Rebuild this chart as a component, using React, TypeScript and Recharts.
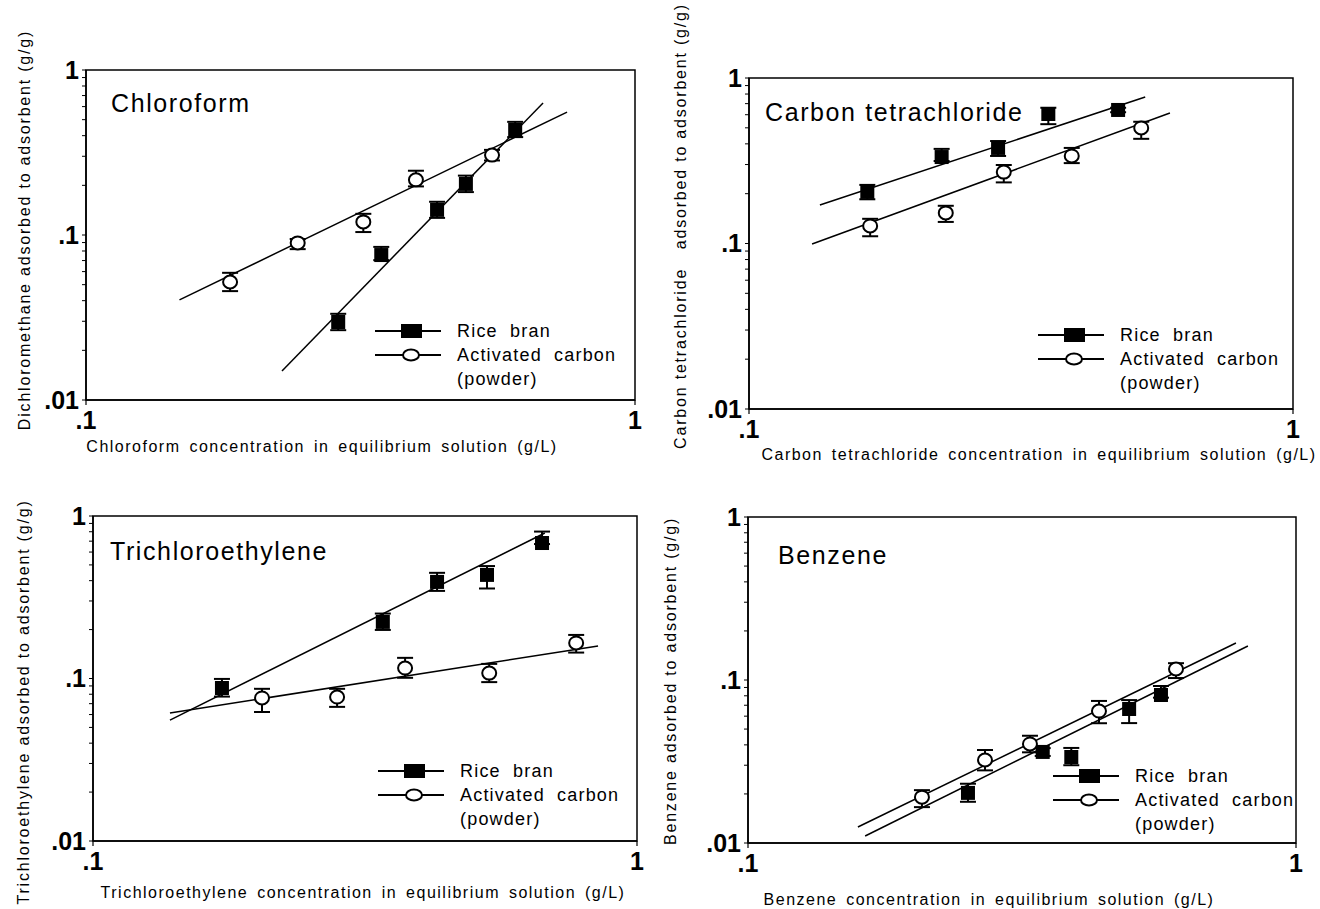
import React from 'react';
import { ScatterChart, Scatter, XAxis, YAxis, ErrorBar, ReferenceArea, Legend } from 'recharts';

const FONT = '"Liberation Sans", Arial, Helvetica, sans-serif';

// ---- ticks ----
const xTickValues = [0.1, 1];
const yTickValues = [0.01, 0.02, 0.03, 0.04, 0.05, 0.06, 0.07, 0.08, 0.09, 0.1, 0.2, 0.3, 0.4, 0.5, 0.6, 0.7, 0.8, 0.9, 1];
const decadeValues = [0.01, 0.1, 1];
const decadeLabels = ['.01', '.1', '1'];

// ---- legend texts ----
const seriesNames = ['Rice bran', 'Activated carbon'];
const carbonNote = '(powder)';

// ---- Chloroform ----
const chloroRiceX = [0.288, 0.345, 0.436, 0.492, 0.605];
const chloroRiceY = [0.0297, 0.0756, 0.142, 0.204, 0.433];
const chloroRiceErr = [[0.0032, 0.0036], [0.0052, 0.0091], [0.015, 0.017], [0.022, 0.025], [0.041, 0.052]];
const chloroCarbonX = [0.183, 0.243, 0.32, 0.399, 0.549];
const chloroCarbonY = [0.0519, 0.0895, 0.12, 0.216, 0.305];
const chloroCarbonErr = [[0.0062, 0.0071], [0.0074, 0.0051], [0.0158, 0.0144], [0.019, 0.0292], [0.022, 0.023]];
const chloroRiceFitX = [0.2275, 0.68];
const chloroRiceFitY = [0.015, 0.631];
const chloroCarbonFitX = [0.148, 0.752];
const chloroCarbonFitY = [0.0404, 0.556];

// ---- Carbon tetrachloride ----
const ctetRiceX = [0.165, 0.226, 0.287, 0.355, 0.477];
const ctetRiceY = [0.205, 0.333, 0.378, 0.606, 0.641];
const ctetRiceErr = [[0.02, 0.021], [0.018, 0.04], [0.04, 0.038], [0.08, 0.055], [0.02, 0.02]];
const ctetCarbonX = [0.167, 0.23, 0.294, 0.392, 0.526];
const ctetCarbonY = [0.1276, 0.153, 0.27, 0.338, 0.499];
const ctetCarbonErr = [[0.017, 0.0134], [0.018, 0.016], [0.036, 0.028], [0.032, 0.04], [0.07, 0.045]];
const ctetRiceFitX = [0.135, 0.535];
const ctetRiceFitY = [0.171, 0.768];
const ctetCarbonFitX = [0.1306, 0.594];
const ctetCarbonFitY = [0.0993, 0.615];

// ---- Trichloroethylene ----
const tceRiceX = [0.1726, 0.341, 0.429, 0.53, 0.669];
const tceRiceY = [0.0874, 0.223, 0.393, 0.434, 0.682];
const tceRiceErr = [[0.01, 0.012], [0.024, 0.028], [0.047, 0.054], [0.076, 0.058], [0.01, 0.12]];
const tceCarbonX = [0.2045, 0.281, 0.3747, 0.535, 0.773];
const tceCarbonY = [0.0759, 0.0769, 0.116, 0.108, 0.1654];
const tceCarbonErr = [[0.0137, 0.0105], [0.01, 0.0095], [0.015, 0.018], [0.013, 0.015], [0.021, 0.02]];
const tceRiceFitX = [0.1385, 0.677];
const tceRiceFitY = [0.0555, 0.786];
const tceCarbonFitX = [0.1385, 0.848];
const tceCarbonFitY = [0.0613, 0.1585];

// ---- Benzene ----
const benzRiceX = [0.252, 0.345, 0.389, 0.496, 0.567];
const benzRiceY = [0.0203, 0.0362, 0.0337, 0.0664, 0.0809];
const benzRiceErr = [[0.0024, 0.0028], [0.002, 0.002], [0.0037, 0.0046], [0.012, 0.0089], [0.003, 0.011]];
const benzCarbonX = [0.2077, 0.2707, 0.327, 0.437, 0.604];
const benzCarbonY = [0.0191, 0.0323, 0.0405, 0.0645, 0.1168];
const benzCarbonErr = [[0.0025, 0.002], [0.0044, 0.0049], [0.0045, 0.005], [0.0102, 0.0099], [0.014, 0.01]];
const benzRiceFitX = [0.1636, 0.817];
const benzRiceFitY = [0.01104, 0.1617];
const benzCarbonFitX = [0.1587, 0.777];
const benzCarbonFitY = [0.01253, 0.1686];

// ---- text ----
const panelTitles = ['Chloroform', 'Carbon tetrachloride', 'Trichloroethylene', 'Benzene'];
const xTitles = [
  'Chloroform concentration in equilibrium solution (g/L)',
  'Carbon tetrachloride concentration in equilibrium solution (g/L)',
  'Trichloroethylene concentration in equilibrium solution (g/L)',
  'Benzene concentration in equilibrium solution (g/L)',
];
const yTitles = [
  'Dichloromethane adsorbed to adsorbent (g/g)',
  'Carbon tetrachloride   adsorbed to adsorbent (g/g)',
  'Trichloroethylene adsorbed to adsorbent (g/g)',
  'Benzene adsorbed to adsorbent (g/g)',
];

const zip = (xs: number[], ys: number[], es?: number[][]) =>
  xs.map((x, i) => (es ? { x, y: ys[i], err: es[i] } : { x, y: ys[i] }));

const panels = [
  { rice: zip(chloroRiceX, chloroRiceY, chloroRiceErr), carbon: zip(chloroCarbonX, chloroCarbonY, chloroCarbonErr), riceFit: zip(chloroRiceFitX, chloroRiceFitY), carbonFit: zip(chloroCarbonFitX, chloroCarbonFitY) },
  { rice: zip(ctetRiceX, ctetRiceY, ctetRiceErr), carbon: zip(ctetCarbonX, ctetCarbonY, ctetCarbonErr), riceFit: zip(ctetRiceFitX, ctetRiceFitY), carbonFit: zip(ctetCarbonFitX, ctetCarbonFitY) },
  { rice: zip(tceRiceX, tceRiceY, tceRiceErr), carbon: zip(tceCarbonX, tceCarbonY, tceCarbonErr), riceFit: zip(tceRiceFitX, tceRiceFitY), carbonFit: zip(tceCarbonFitX, tceCarbonFitY) },
  { rice: zip(benzRiceX, benzRiceY, benzRiceErr), carbon: zip(benzCarbonX, benzCarbonY, benzCarbonErr), riceFit: zip(benzRiceFitX, benzRiceFitY), carbonFit: zip(benzCarbonFitX, benzCarbonFitY) },
];

// ---- layout (page coordinates) ----
const boxes = [
  { left: 86, top: 70, right: 635, bottom: 400, title: [111, 103], xt: [322, 447], yt: [25, 230], leg: [375, 319] },
  { left: 749, top: 78, right: 1293, bottom: 409, title: [765, 112], xt: [1039, 455], yt: [681, 226], leg: [1038, 323] },
  { left: 93, top: 516, right: 637, bottom: 841, title: [110, 551], xt: [363, 893], yt: [24, 702], leg: [378, 759] },
  { left: 748, top: 517, right: 1296, bottom: 843, title: [778, 555], xt: [989, 900], yt: [671, 681], leg: [1053, 764] },
];

const PAD_L = 80, PAD_T = 40, PAD_R = 20, PAD_B = 50, Y_W = 60, X_H = 40;

const fmt = (v: number) => {
  const i = decadeValues.findIndex((d) => Math.abs(d - v) < 1e-9);
  return i >= 0 ? decadeLabels[i] : '';
};

const SquareMark = (props: any) => {
  const { cx, cy } = props;
  if (cx == null || cy == null) return <g />;
  return <rect x={cx - 7} y={cy - 7} width={14} height={14} fill="#000" />;
};
const CircleMark = (props: any) => {
  const { cx, cy } = props;
  if (cx == null || cy == null) return <g />;
  return <ellipse cx={cx} cy={cy} rx={7} ry={6.5} fill="#fff" stroke="#000" strokeWidth={2} />;
};
const NoMark = () => <g />;

const LegendBox = () => (
  <div style={{ fontFamily: FONT, fontSize: 18, letterSpacing: 1.2, wordSpacing: 6, color: '#000', lineHeight: '24px', whiteSpace: 'nowrap', textAlign: 'left' }}>
    <div style={{ display: 'flex', alignItems: 'center', height: 24 }}>
      <svg width={70} height={16}>
        <line x1={0} y1={8} x2={66} y2={8} stroke="#000" strokeWidth={2} />
        <rect x={26} y={1} width={21} height={14} fill="#000" />
      </svg>
      <span style={{ marginLeft: 12 }}>{seriesNames[0]}</span>
    </div>
    <div style={{ display: 'flex', alignItems: 'center', height: 24 }}>
      <svg width={70} height={16}>
        <line x1={0} y1={8} x2={66} y2={8} stroke="#000" strokeWidth={2} />
        <ellipse cx={36} cy={8} rx={8} ry={5.5} fill="#fff" stroke="#000" strokeWidth={2} />
      </svg>
      <span style={{ marginLeft: 12 }}>{seriesNames[1]}</span>
    </div>
    <div style={{ height: 24, paddingLeft: 82 }}>{carbonNote}</div>
  </div>
);

function Panel({ idx }: { idx: number }) {
  const b = boxes[idx];
  const p = panels[idx];
  const W = b.right - b.left + PAD_L + PAD_R;
  const H = b.bottom - b.top + PAD_T + PAD_B;
  const cl = b.left - PAD_L;
  const ct = b.top - PAD_T;
  const tickStyle = { fill: '#000', fontSize: 25, fontWeight: 'bold', fontFamily: FONT };
  return (
    <div style={{ position: 'absolute', left: cl, top: ct, width: W, height: H }}>
      <ScatterChart width={W} height={H} margin={{ top: PAD_T, right: PAD_R, bottom: PAD_B - X_H, left: PAD_L - Y_W }}>
        <XAxis
          type="number"
          dataKey="x"
          scale="log"
          domain={[0.1, 1]}
          ticks={xTickValues}
          interval={0}
          allowDataOverflow
          tickFormatter={fmt}
          tick={tickStyle}
          tickSize={5}
          tickMargin={6}
          height={X_H}
          axisLine={{ stroke: '#000', strokeWidth: 1.5 }}
          tickLine={{ stroke: '#000', strokeWidth: 1.2 }}
        />
        <YAxis
          type="number"
          dataKey="y"
          scale="log"
          domain={[0.01, 1]}
          ticks={yTickValues}
          interval={0}
          allowDataOverflow
          tickFormatter={fmt}
          tick={tickStyle}
          tickSize={4}
          tickMargin={3}
          width={Y_W}
          axisLine={{ stroke: '#000', strokeWidth: 1.5 }}
          tickLine={{ stroke: '#000', strokeWidth: 1 }}
        />
        <ReferenceArea x1={0.1} x2={1} y1={0.01} y2={1} fill="none" stroke="#000" strokeWidth={1.5} ifOverflow="visible" />
        <Scatter data={p.riceFit} line={{ stroke: '#000', strokeWidth: 1.5 }} shape={NoMark} legendType="none" isAnimationActive={false} />
        <Scatter data={p.carbonFit} line={{ stroke: '#000', strokeWidth: 1.5 }} shape={NoMark} legendType="none" isAnimationActive={false} />
        <Scatter name={seriesNames[0]} data={p.rice} shape={SquareMark} isAnimationActive={false}>
          <ErrorBar dataKey="err" direction="y" width={8} stroke="#000" strokeWidth={2} />
        </Scatter>
        <Scatter name={seriesNames[1]} data={p.carbon} shape={CircleMark} isAnimationActive={false}>
          <ErrorBar dataKey="err" direction="y" width={8} stroke="#000" strokeWidth={2} />
        </Scatter>
        <Legend
          layout="horizontal"
          verticalAlign="middle"
          align="center"
          content={() => <LegendBox />}
          wrapperStyle={{ position: 'absolute', left: b.leg[0] - cl, top: b.leg[1] - ct, width: 'auto' }}
        />
      </ScatterChart>
    </div>
  );
}

function Texts({ idx }: { idx: number }) {
  const b = boxes[idx];
  return (
    <>
      <div style={{ position: 'absolute', left: b.title[0], top: b.title[1] - 14, fontFamily: FONT, fontSize: 25, lineHeight: '28px', letterSpacing: 1.6, color: '#000', whiteSpace: 'nowrap' }}>
        {panelTitles[idx]}
      </div>
      <div style={{ position: 'absolute', left: b.xt[0], top: b.xt[1] - 10, transform: 'translateX(-50%)', fontFamily: FONT, fontSize: 16, lineHeight: '20px', letterSpacing: 1.5, wordSpacing: 3, color: '#000', whiteSpace: 'pre' }}>
        {xTitles[idx]}
      </div>
      <div style={{ position: 'absolute', left: b.yt[0], top: b.yt[1], transform: 'translate(-50%, -50%) rotate(-90deg)', fontFamily: FONT, fontSize: 16, lineHeight: '20px', letterSpacing: 1.8, color: '#000', whiteSpace: 'pre' }}>
        {yTitles[idx]}
      </div>
    </>
  );
}

export default function App() {
  return (
    <div style={{ position: 'absolute', left: 0, top: 0, width: 1320, height: 909, background: '#fff', overflow: 'hidden' }}>
      {[0, 1, 2, 3].map((i) => (
        <Panel key={'p' + i} idx={i} />
      ))}
      {[0, 1, 2, 3].map((i) => (
        <Texts key={'t' + i} idx={i} />
      ))}
    </div>
  );
}
